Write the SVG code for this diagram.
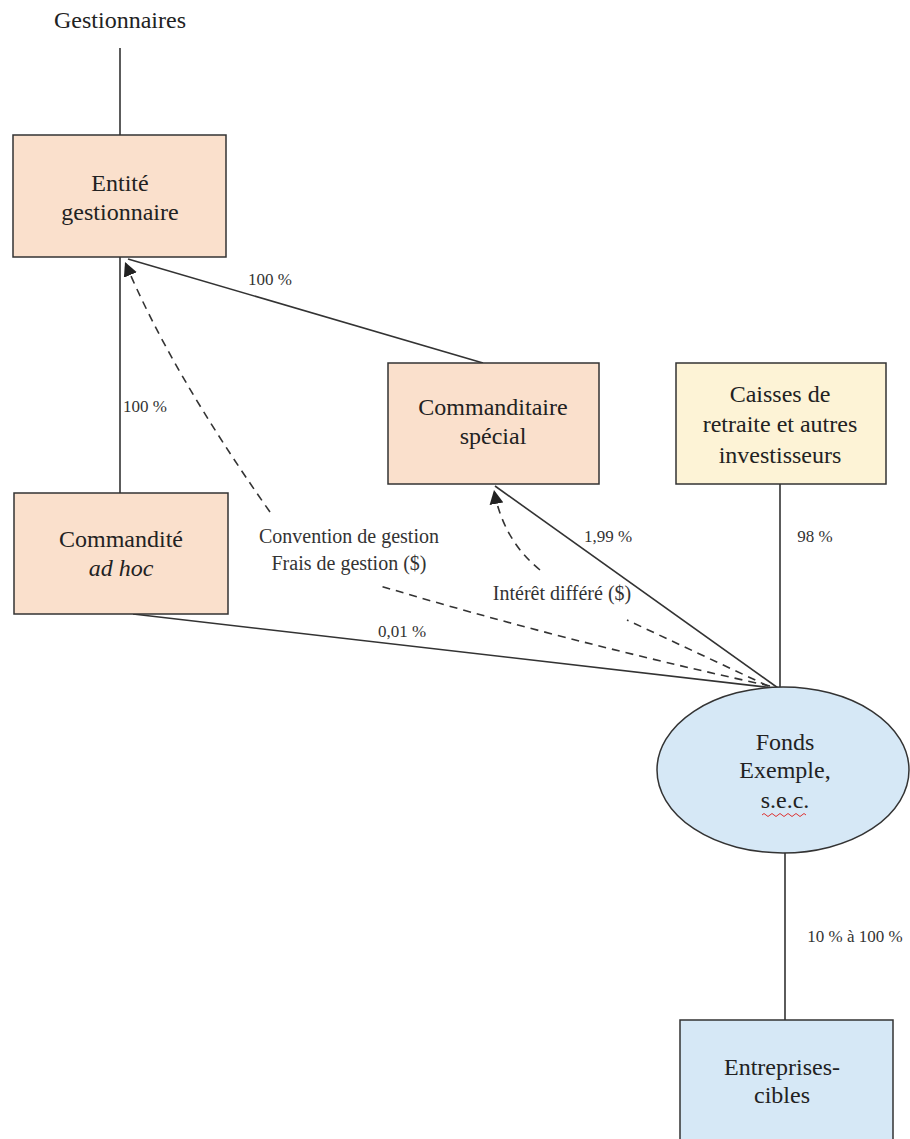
<svg xmlns="http://www.w3.org/2000/svg" width="910" height="1139" viewBox="0 0 910 1139">
<style>
.node{stroke:#333;stroke-width:1.5}
.peach{fill:#fae0cc}
.yellow{fill:#fdf3d6}
.blue{fill:#d6e8f6}
text{font-family:'Times New Roman','Liberation Serif',Tinos,'Nimbus Roman','FreeSerif','Noto Serif','DejaVu Serif',serif;fill:#222;text-anchor:middle}
.t{font-size:24px}
.lbl{font-size:17px;fill:#333}
.dl{font-size:20px;fill:#333}
.ln{stroke:#333;stroke-width:1.6;fill:none}
.dash{stroke:#333;stroke-width:1.6;fill:none;stroke-dasharray:8 6}
</style>
<defs>
<marker id="arr" markerUnits="userSpaceOnUse" markerWidth="16" markerHeight="14" refX="14" refY="7" orient="auto">
<path d="M0,0 L14,7 L0,14 z" fill="#222"/>
</marker>
</defs>
<g id="connectors">
<line class="ln" x1="120" y1="48" x2="120" y2="135"/>
<line class="ln" x1="120" y1="257" x2="120" y2="493"/>
<line class="ln" x1="128" y1="259" x2="483" y2="363"/>
<line class="ln" x1="133" y1="614" x2="774" y2="688"/>
<line class="ln" x1="495" y1="486" x2="778" y2="688"/>
<line class="ln" x1="780" y1="484" x2="780" y2="688"/>
<line class="ln" x1="785" y1="853" x2="785" y2="1020"/>
<path class="dash" d="M770,686 Q560,640 377,585"/>
<path class="dash" d="M270,512 Q170,370 125,262" marker-end="url(#arr)"/>
<path class="dash" d="M768,686 L627,620"/>
<path class="dash" d="M540,570 Q503,540 494,490" marker-end="url(#arr)"/>
</g>
<g id="labels">
<text class="t" x="120" y="28">Gestionnaires</text>
<text class="lbl" x="270" y="285">100 %</text>
<text class="lbl" x="145" y="412">100 %</text>
<text class="dl" x="349" y="543">Convention de gestion</text>
<text class="dl" x="349" y="570">Frais de gestion ($)</text>
<text class="lbl" x="402" y="637">0,01 %</text>
<text class="lbl" x="608" y="542">1,99 %</text>
<text class="lbl" x="815" y="542">98 %</text>
<text class="dl" x="562" y="600">Intérêt différé ($)</text>
<text class="lbl" x="855" y="942">10 % à 100 %</text>
</g>
<g id="entite">
<rect class="node peach" x="13" y="135" width="213" height="122"/>
<text class="t" x="120" y="191">Entité</text>
<text class="t" x="120" y="220">gestionnaire</text>
</g>
<g id="commandite">
<rect class="node peach" x="14" y="493" width="214" height="121"/>
<text class="t" x="121" y="547">Commandité</text>
<text class="t" x="121" y="576" font-style="italic">ad hoc</text>
</g>
<g id="commanditaire">
<rect class="node peach" x="388" y="363" width="211" height="121"/>
<text class="t" x="493" y="415">Commanditaire</text>
<text class="t" x="493" y="444">spécial</text>
</g>
<g id="caisses">
<rect class="node yellow" x="676" y="363" width="210" height="121"/>
<text class="t" x="780" y="402">Caisses de</text>
<text class="t" x="780" y="432">retraite et autres</text>
<text class="t" x="780" y="463">investisseurs</text>
</g>
<g id="fonds">
<ellipse class="node blue" cx="783" cy="770" rx="126" ry="83"/>
<text class="t" x="785" y="750">Fonds</text>
<text class="t" x="785" y="778">Exemple,</text>
<text class="t" x="785" y="808">s.e.c.</text>
<path d="M762,815 q2,-3 4,0 t4,0 t4,0 t4,0 t4,0 t4,0 t4,0 t4,0 t4,0 t4,0 t4,0" stroke="#d33" stroke-width="1" fill="none"/>
</g>
<g id="entreprises">
<rect class="node blue" x="680" y="1020" width="213" height="130"/>
<text class="t" x="782" y="1075">Entreprises-</text>
<text class="t" x="782" y="1103">cibles</text>
</g>
</svg>
